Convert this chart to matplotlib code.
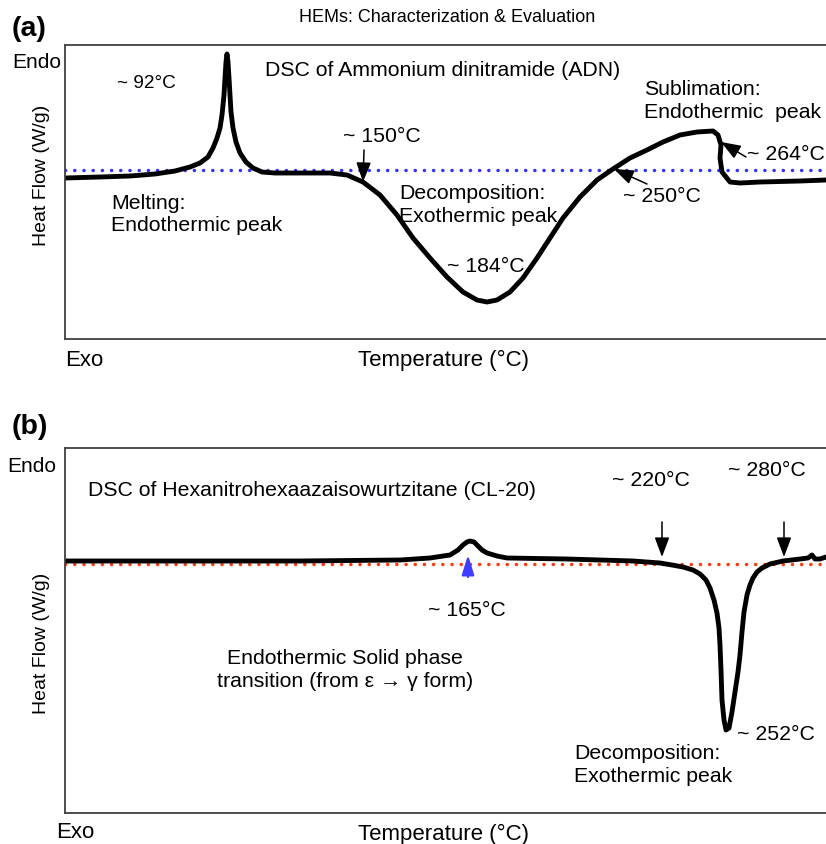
import numpy as np
import matplotlib
matplotlib.use('Agg')
import matplotlib.pyplot as plt

plt.rcParams['font.family'] = ['Liberation Sans', 'DejaVu Sans']

## Panel (a): DSC of ADN (schematic, arbitrary units)
adn_T = [0, 35, 65, 90, 110, 125, 135, 143, 148, 152, 155, 157, 159, 160, 161, 162,
         163, 164, 165, 166, 168, 171, 175, 181, 188, 197, 210, 235, 250,
         265, 282, 298, 315, 332, 348, 365, 382, 398, 412, 422, 432, 445, 458,
         472, 485, 498, 515, 532, 548, 565, 582, 598, 615, 632, 648, 653, 656,
         655, 657, 665, 675, 695, 735, 761]
adn_H = [161, 162, 163, 165, 168, 172, 176, 182, 191, 201, 211, 224, 244, 261, 277, 285,
         277, 261, 244, 227, 211, 197, 186, 177, 171, 167, 166, 166, 166,
         166, 164, 157, 144, 124, 101, 81, 62, 47, 39, 37, 39, 47, 61,
         81, 101, 121, 142, 159, 170, 181, 189, 197, 204, 207, 208, 204, 194,
         181, 167, 157, 156, 157, 158, 159]
adn_base = 169

## Panel (b): DSC of CL-20 (schematic, arbitrary units)
cl20_T = [0, 135, 235, 335, 365, 385, 393, 398, 402, 405, 409, 412, 417, 422, 432, 442,
          502, 568, 595, 607, 618, 628, 635, 641, 645, 649, 652, 654, 655, 656, 657,
          659, 661, 664, 667, 670, 673, 675, 677, 679, 682, 685, 688, 692, 697, 705,
          718, 735, 743, 747, 750, 755, 761]
cl20_H = [252, 252, 252, 253, 255, 258, 263, 268, 271, 272, 271, 268, 263, 260, 257, 255,
          254, 252, 250, 248, 246, 243, 239, 233, 225, 213, 200, 185, 168, 143, 113,
          93, 83, 85, 101, 121, 141, 158, 181, 201, 218, 228, 235, 241, 245, 249,
          252, 254, 255, 258, 254, 254, 256]
cl20_base = 249

W, H = 826, 844
fig = plt.figure(figsize=(W/100., H/100.), dpi=100)

def px(x, y):
    return x/float(W), 1 - y/float(H)

def style_axes(ax, ymax):
    ax.set_xlim(0, 761)
    ax.set_ylim(0, ymax)
    ax.set_xticks([])
    ax.set_yticks([])
    ax.spines['right'].set_visible(False)
    for s in ['left', 'top', 'bottom']:
        ax.spines[s].set_color('#404040')
        ax.spines[s].set_linewidth(1.3)

def arrow(ax, tail, tip, color='k', lw=1.1, hw=0.3):
    ax.annotate('', xy=tip, xytext=tail,
                arrowprops=dict(arrowstyle='-|>,head_length=0.8,head_width=%.2f' % hw,
                                color=color, lw=lw, mutation_scale=15,
                                shrinkA=0, shrinkB=0))

fs = 15.3
dotted = (0, (0.05, 2.6))

## ---- panel (a)
ax1 = fig.add_axes([65/826., 1-339/844., 761/826., 294/844.])
style_axes(ax1, 294)
ax1.axhline(adn_base, color='#3434ff', lw=2.5, linestyle=dotted, dash_capstyle='round')
ax1.plot(adn_T, adn_H, color='k', lw=3.5, solid_joinstyle='round', solid_capstyle='round')

ax1.text(52, 256, '~ 92\u00b0C', fontsize=13.7, va='center')
ax1.text(200, 268, 'DSC of Ammonium dinitramide (ADN)', fontsize=fs, va='center')
ax1.text(278, 202, '~ 150\u00b0C', fontsize=fs, va='center')
ax1.text(46, 124.5, 'Melting:\nEndothermic peak', fontsize=fs, va='center', linespacing=1.25)
ax1.text(334, 134, 'Decomposition:\nExothermic peak', fontsize=fs, va='center', linespacing=1.25)
ax1.text(382, 72, '~ 184\u00b0C', fontsize=fs, va='center')
ax1.text(558, 143, '~ 250\u00b0C', fontsize=fs, va='center')
ax1.text(579, 238, 'Sublimation:\nEndothermic  peak', fontsize=fs, va='center', linespacing=1.25)
ax1.text(682, 185, '~ 264\u00b0C', fontsize=fs, va='center')
arrow(ax1, (299, 189), (298, 157))
arrow(ax1, (582, 155), (549, 170))
arrow(ax1, (681, 182), (656, 197))

## ---- panel (b)
ax2 = fig.add_axes([65/826., 1-813/844., 761/826., 365/844.])
style_axes(ax2, 365)
ax2.axhline(cl20_base, color='#ff3a10', lw=2.5, linestyle=dotted, dash_capstyle='round')
ax2.plot(cl20_T, cl20_H, color='k', lw=3.5, solid_joinstyle='round', solid_capstyle='round')

ax2.text(23, 323, 'DSC of Hexanitrohexaazaisowurtzitane (CL-20)', fontsize=fs, va='center')
ax2.text(547, 333, '~ 220\u00b0C', fontsize=fs, va='center')
ax2.text(663, 343, '~ 280\u00b0C', fontsize=fs, va='center')
ax2.text(363, 203, '~ 165\u00b0C', fontsize=fs, va='center')
ax2.text(280, 143, 'Endothermic Solid phase\ntransition (from \u03b5 \u2192 \u03b3 form)',
         fontsize=fs, va='center', ha='center', multialignment='center', linespacing=1.25)
ax2.text(672, 78, '~ 252\u00b0C', fontsize=fs, va='center')
ax2.text(509, 48, 'Decomposition:\nExothermic peak', fontsize=fs, va='center', linespacing=1.25)
arrow(ax2, (597, 291), (597, 256))
arrow(ax2, (719, 291), (719, 256))
arrow(ax2, (403, 236), (403, 258), color='#3d3dff', lw=1.6, hw=0.25)

## ---- outside labels
fig.text(*px(447, 18), 'HEMs: Characterization & Evaluation', fontsize=13, ha='center', va='center')
fig.text(*px(12, 29), '(a)', fontsize=20.5, fontweight='bold', va='center')
fig.text(*px(12, 63), 'Endo', fontsize=15, va='center')
fig.text(*px(65, 361), 'Exo', fontsize=16, va='center')
fig.text(*px(358, 360), 'Temperature (\u00b0C)', fontsize=16, va='center')
fig.text(*px(41, 175), 'Heat Flow (W/g)', fontsize=14, va='center', ha='center', rotation=90)

fig.text(*px(12, 427), '(b)', fontsize=20.5, fontweight='bold', va='center')
fig.text(*px(7, 466), 'Endo', fontsize=15, va='center')
fig.text(*px(56, 832), 'Exo', fontsize=16, va='center')
fig.text(*px(358, 834), 'Temperature (\u00b0C)', fontsize=16, va='center')
fig.text(*px(41, 643), 'Heat Flow (W/g)', fontsize=14, va='center', ha='center', rotation=90)

plt.savefig('out.png', dpi=100)
plt.close()
